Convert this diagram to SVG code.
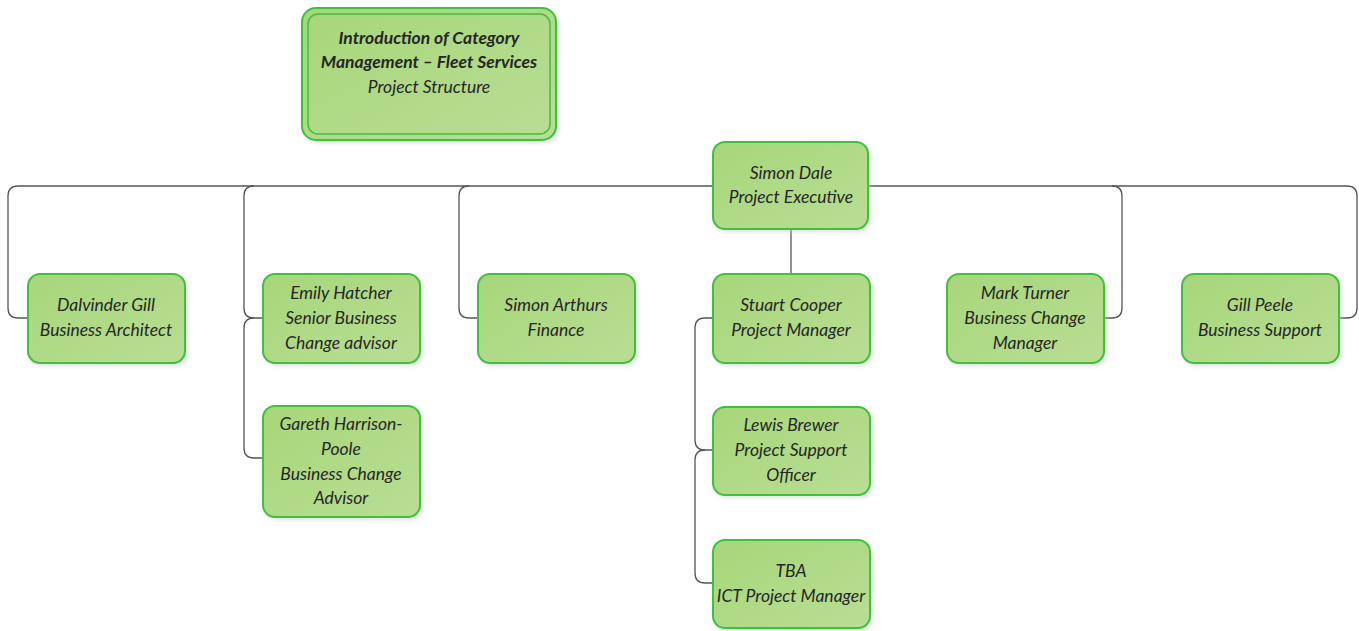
<svg xmlns="http://www.w3.org/2000/svg" width="1359" height="631" viewBox="0 0 1359 631">
<style>
.box{fill:url(#g);stroke:#3fc03f;stroke-width:2}
.sh{fill:#c8c8c8;opacity:0.55}
.t{font-family:Lato,"Liberation Sans",sans-serif;font-style:italic;font-size:17.5px;fill:#262626;text-anchor:middle}
.b{font-weight:bold;font-size:17.5px}
.c{fill:none;stroke:#555;stroke-width:1.3}
</style>
<defs>
<linearGradient id="g" x1="0" y1="0" x2="1" y2="1">
<stop offset="0" stop-color="#a8d67a"/>
<stop offset="1" stop-color="#b8de94"/>
</linearGradient>
<filter id="blur"><feGaussianBlur stdDeviation="2"/></filter>
</defs>
<g id="connectors">
<path class="c" d="M713 186 H18 Q8 186 8 196 V308 Q8 318 18 318 H28"/>
<path class="c" d="M254 186 Q244 186 244 196 V308 Q244 318 254 318 H263"/>
<path class="c" d="M254 318 Q244 318 244 328 V448 Q244 458 254 458 H263"/>
<path class="c" d="M469 186 Q459 186 459 196 V308 Q459 318 469 318 H478"/>
<path class="c" d="M791 229 V274"/>
<path class="c" d="M713 318 H705 Q695 318 695 328 V440 Q695 450 705 450 H713"/>
<path class="c" d="M705 450 Q695 450 695 460 V573 Q695 583 705 583 H713"/>
<path class="c" d="M868 186 H1347 Q1357 186 1357 196 V308 Q1357 318 1347 318 H1339"/>
<path class="c" d="M1112 186 Q1122 186 1122 196 V308 Q1122 318 1112 318 H1104"/>
</g>
<g id="title">
<rect class="sh" x="305" y="11" width="254" height="132" rx="14" filter="url(#blur)"/>
<rect class="box" x="302" y="8" width="254" height="132" rx="14"/>
<rect x="308" y="14" width="242" height="120" rx="10" fill="none" stroke="#3fc03f" stroke-width="1.5"/>
<text class="t b" x="429" y="44">Introduction of Category</text>
<text class="t b" x="429" y="68">Management – Fleet Services</text>
<text class="t" x="429" y="93">Project Structure</text>
</g>
<g id="simon-dale">
<rect class="sh" x="716" y="145" width="155" height="87" rx="12" filter="url(#blur)"/>
<rect class="box" x="713" y="142" width="155" height="87" rx="12"/>
<text class="t" x="791" y="179">Simon Dale</text>
<text class="t" x="791" y="203">Project Executive</text>
</g>
<g id="dalvinder-gill">
<rect class="sh" x="31" y="277" width="157" height="89" rx="12" filter="url(#blur)"/>
<rect class="box" x="28" y="274" width="157" height="89" rx="12"/>
<text class="t" x="106" y="311">Dalvinder Gill</text>
<text class="t" x="106" y="336">Business Architect</text>
</g>
<g id="emily-hatcher">
<rect class="sh" x="266" y="277" width="157" height="89" rx="12" filter="url(#blur)"/>
<rect class="box" x="263" y="274" width="157" height="89" rx="12"/>
<text class="t" x="341" y="299">Emily Hatcher</text>
<text class="t" x="341" y="324">Senior Business</text>
<text class="t" x="341" y="349">Change advisor</text>
</g>
<g id="gareth-harrison-poole">
<rect class="sh" x="266" y="409" width="157" height="111" rx="12" filter="url(#blur)"/>
<rect class="box" x="263" y="406" width="157" height="111" rx="12"/>
<text class="t" x="341" y="430">Gareth Harrison-</text>
<text class="t" x="341" y="455">Poole</text>
<text class="t" x="341" y="480">Business Change</text>
<text class="t" x="341" y="504">Advisor</text>
</g>
<g id="simon-arthurs">
<rect class="sh" x="481" y="277" width="157" height="89" rx="12" filter="url(#blur)"/>
<rect class="box" x="478" y="274" width="157" height="89" rx="12"/>
<text class="t" x="556" y="311">Simon Arthurs</text>
<text class="t" x="556" y="336">Finance</text>
</g>
<g id="stuart-cooper">
<rect class="sh" x="716" y="277" width="157" height="89" rx="12" filter="url(#blur)"/>
<rect class="box" x="713" y="274" width="157" height="89" rx="12"/>
<text class="t" x="791" y="311">Stuart Cooper</text>
<text class="t" x="791" y="336">Project Manager</text>
</g>
<g id="lewis-brewer">
<rect class="sh" x="716" y="410" width="157" height="88" rx="12" filter="url(#blur)"/>
<rect class="box" x="713" y="407" width="157" height="88" rx="12"/>
<text class="t" x="791" y="431">Lewis Brewer</text>
<text class="t" x="791" y="456">Project Support</text>
<text class="t" x="791" y="481">Officer</text>
</g>
<g id="tba">
<rect class="sh" x="716" y="543" width="157" height="88" rx="12" filter="url(#blur)"/>
<rect class="box" x="713" y="540" width="157" height="88" rx="12"/>
<text class="t" x="791" y="577">TBA</text>
<text class="t" x="791" y="602">ICT Project Manager</text>
</g>
<g id="mark-turner">
<rect class="sh" x="950" y="277" width="157" height="89" rx="12" filter="url(#blur)"/>
<rect class="box" x="947" y="274" width="157" height="89" rx="12"/>
<text class="t" x="1025" y="299">Mark Turner</text>
<text class="t" x="1025" y="324">Business Change</text>
<text class="t" x="1025" y="349">Manager</text>
</g>
<g id="gill-peele">
<rect class="sh" x="1185" y="277" width="157" height="89" rx="12" filter="url(#blur)"/>
<rect class="box" x="1182" y="274" width="157" height="89" rx="12"/>
<text class="t" x="1260" y="311">Gill Peele</text>
<text class="t" x="1260" y="336">Business Support</text>
</g>
</svg>
